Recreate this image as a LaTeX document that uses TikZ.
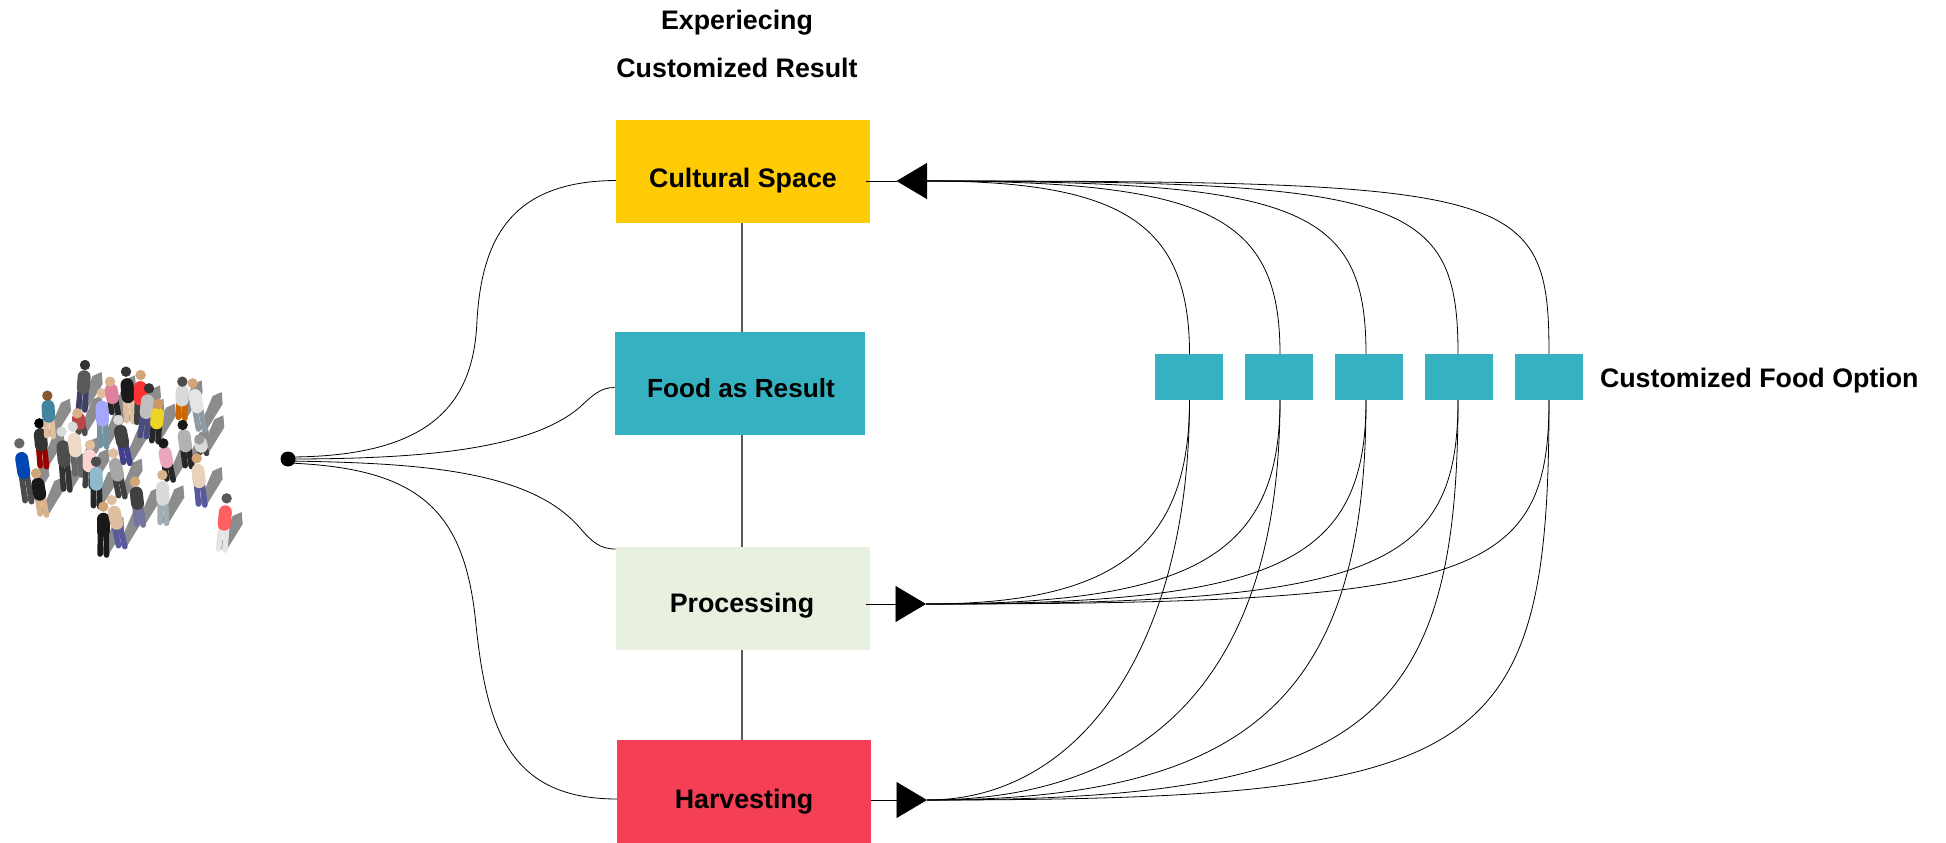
\documentclass[tikz,border=0pt]{standalone}
\usepackage{fontspec}
\setmainfont{Liberation Sans}
\usetikzlibrary{calc,arrows.meta}
\tikzset{
  box/.style={rectangle,minimum width=#1,minimum height=103,inner sep=0,outer sep=0},
  opt/.style={rectangle,fill=optc,minimum width=68.5,minimum height=46,inner sep=0,outer sep=0},
  lab/.style={inner sep=0,outer sep=0,font=\fontsize{26.8}{30}\selectfont\bfseries},
  flow/.style={draw=black,line width=0.8},
  stem/.style={draw=black!65,line width=1.5},
  tri/.style={flow,-{Triangle[length=30.5,width=36]}}
}
\definecolor{optc}{HTML}{36B1C1}
\definecolor{cultc}{HTML}{FFCB05}
\definecolor{procc}{HTML}{E8F0E0}
\definecolor{harvc}{HTML}{F43F55}
\newcommand\sweep[3]{\draw[flow] (#1) .. controls ($(#1)!#3!(#1 -| #2)$) and ($(#2)!#3!(#1 -| #2)$) .. (#2);}
\newcommand\pershadow[4]{\fill[black!45] ({#3/3-3},{330+#4/3-1}) -- ({#3/3+5},{330+#4/3}) -- ({#3/3+21},{330+#4/3-26}) -- ({#3/3+20},{330+#4/3-38}) -- ({#3/3+11},{330+#4/3-34}) -- cycle;}
\newcommand\persbody[7]{%
  \coordinate (hd) at ({#1/3},{330+#2/3});
  \coordinate (ft) at ({#3/3},{330+#4/3});
  \draw[line width=5.6,#6,line cap=round] ($(hd)!.5!(ft)+(-2.8,0)$) -- ($(ft)+(-3.2,-1)$);
  \draw[line width=5.6,#6,line cap=round] ($(hd)!.5!(ft)+(2.8,0)$) -- ($(ft)+(3.2,0)$);
  \draw[line width=13,#5,line cap=round] ($(hd)!.26!(ft)$) -- ($(hd)!.5!(ft)$);
  \fill[#7] (hd) circle (5.2);
}
\begin{document}
\begin{tikzpicture}[x=1pt,y=-1pt]
\useasboundingbox (0,0) rectangle (1946,843);
% crowd
\foreach \hx/\hy/\fx/\fy in {
 58/340/85/515, 118/280/130/410, 142/197/150/320, 255/105/245/240, 232/250/245/310,
 185/305/200/480, 218/290/235/435, 108/430/130/555, 270/345/265/470, 288/395/290/530,
 340/370/365/500, 305/190/310/350, 330/155/345/250, 378/125/390/275, 422/135/420/280,
 447/175/430/320, 475/222/465/335, 355/270/380/400, 547/155/545/265, 578/160/605/300,
 490/340/510/450, 548/285/565/410, 598/328/610/370, 590/385/605/525, 487/435/490/580,
 405/455/420/585, 310/530/310/675, 335/510/365/650, 680/505/665/660}
 {\pershadow{\hx}{\hy}{\fx}{\fy}}
\foreach \hx/\hy/\fx/\fy/\tp/\bt/\hr in {
 58/340/85/515/{blue!60!cyan!70!black}/{black!70}/{black!60},
 118/280/130/410/{black!80}/{red!60!black}/black,
 142/197/150/320/{cyan!60!black}/{brown!50}/{brown!70!black},
 255/105/245/240/{black!65}/{blue!20!black!75}/{black!80},
 232/250/245/310/{red!45!gray}/{black!70}/{brown!60},
 185/305/200/480/{black!70}/{black!80}/{white!85!black},
 218/290/235/435/{brown!30}/{black!60}/{white!85!black},
 108/430/130/555/{black!90}/{brown!60}/{brown!70},
 270/345/265/470/{pink!70}/{black!75}/{brown!50},
 288/395/290/530/{blue!30!cyan!30!white!80!black}/{black!85}/{black!70},
 340/370/365/500/{black!35}/{black!75}/{brown!50},
 305/190/310/350/{blue!35!white}/{cyan!40!black!70}/{brown!50},
 330/155/345/250/{purple!50}/{black!85}/{brown!60},
 378/125/390/275/{black!90}/{brown!50}/{black!80},
 422/135/420/280/{red!80}/{black!75}/{brown!70},
 447/175/430/320/{black!25}/{blue!30!black!70}/{black!80},
 475/222/465/335/{yellow!70!brown}/{black!85}/{brown!80},
 355/270/380/400/{black!75}/{blue!40!black!75}/{white!85!black},
 547/155/545/265/{white!85!black}/{orange!80!black}/{black!70},
 578/160/605/300/{white!90!black}/{cyan!25!black!55}/{brown!70},
 490/340/510/450/{purple!35!white}/{black!85}/{black!90},
 548/285/565/410/{black!30}/{black!85}/{black!90},
 598/328/610/370/{white!85!black}/{black!75}/{black!40},
 590/385/605/525/{brown!35}/{blue!40!black!65}/{brown!70},
 487/435/490/580/{white!85!black}/{cyan!25!black!45}/{brown!60},
 405/455/420/585/{black!75}/{blue!30!black!55}/{brown!70},
 310/530/310/675/{black!90}/{black!90}/{brown!70},
 335/510/365/650/{brown!50}/{blue!40!black!65}/{brown!50},
 680/505/665/660/{red!50!pink}/{white!90!black}/{black!65}}
 {\persbody{\hx}{\hy}{\fx}{\fy}{\tp}{\bt}{\hr}}
% main boxes
\node[box=254,fill=cultc] (cult) at (743,171.5) {};
\node[box=250,fill=optc] (food) at (739.5,383.5) {};
\node[box=254,fill=procc] (proc) at (742.5,598.5) {};
\node[box=254,fill=harvc] (harv) at (744,791.5) {};
\node[lab] (cultt) at (743,180.5) {Cultural Space};
\node[lab,font=\fontsize{26.2}{30}\selectfont\bfseries] (foodt) at (741,388.5) {Food as Result};
\node[lab] (proct) at (742,605.5) {Processing};
\node[lab] (harvt) at (744,801.5) {Harvesting};
\node[lab] (t1) at (737,23) {Experiecing};
\node[lab] (t2) at (737,68) {Customized Result};
% stems
\draw[stem] (cult.south -| 742,0) -- (food.north -| 742,0);
\draw[stem] (food.south -| 742,0) -- (proc.north -| 742,0);
\draw[stem] (proc.south -| 742,0) -- (harv.north -| 742,0);
% options
\foreach \i/\x in {1/1189,2/1279,3/1369,4/1459,5/1549}
  \node[opt] (s\i) at (\x,377) {};
\node[lab,anchor=west] (optl) at (1600,381) {Customized Food Option};
\foreach \i/\d in {1/0.5,2/1,3/-3,4/-1,5/0}{
  \coordinate (n\i) at ([xshift=\d]s\i.north);
  \coordinate (u\i) at ([xshift=\d]s\i.south);
}
% hubs and triangles
\coordinate (hubC) at (927,181);
\coordinate (tipC) at (896.5,181);
\coordinate (hubP) at (926,604);
\coordinate (hubH) at (927,800);
\draw[flow] ([xshift=-4]cult.east |- hubC) -- (tipC);
\draw[tri] (hubC) -- (tipC);
\draw[tri] ([xshift=-4]proc.east |- hubP) -- (hubP);
\draw[tri] (harv.east |- hubH) -- (hubH);
\sweep{hubC}{n1}{0.75}\sweep{hubC}{n2}{0.80}\sweep{hubC}{n3}{0.85}\sweep{hubC}{n4}{0.90}\sweep{hubC}{n5}{0.95}
\sweep{hubP}{u1}{0.72}\sweep{hubP}{u2}{0.76}\sweep{hubP}{u3}{0.80}\sweep{hubP}{u4}{0.84}\sweep{hubP}{u5}{0.88}
\sweep{hubH}{u1}{0.60}\sweep{hubH}{u2}{0.66}\sweep{hubH}{u3}{0.74}\sweep{hubH}{u4}{0.82}\sweep{hubH}{u5}{0.90}
% fan
\node[circle,fill=black,minimum size=15,inner sep=0,outer sep=0] (dot) at (288,459) {};
\draw[flow] (dot.center) ++(0,-2) .. controls (430,457) and (474,405) .. (477,320) .. controls (482,240) and (510,181) .. (cult.west |- 0,180.5);
\draw[flow] (dot.center) .. controls (420,459) and (530,450) .. (580,407) .. controls (592,396) and (600,387.5) .. (food.west |- 0,387.5);
\draw[flow] (dot.center) ++(0,2) .. controls (420,463) and (530,470) .. (580,528) .. controls (592,542) and (600,549) .. (proc.west |- 0,549);
\draw[flow] (dot.center) ++(0,4) .. controls (420,468) and (465,510) .. (476,625) .. controls (487,730) and (510,799) .. (harv.west |- 0,799);
\end{tikzpicture}
\end{document}
